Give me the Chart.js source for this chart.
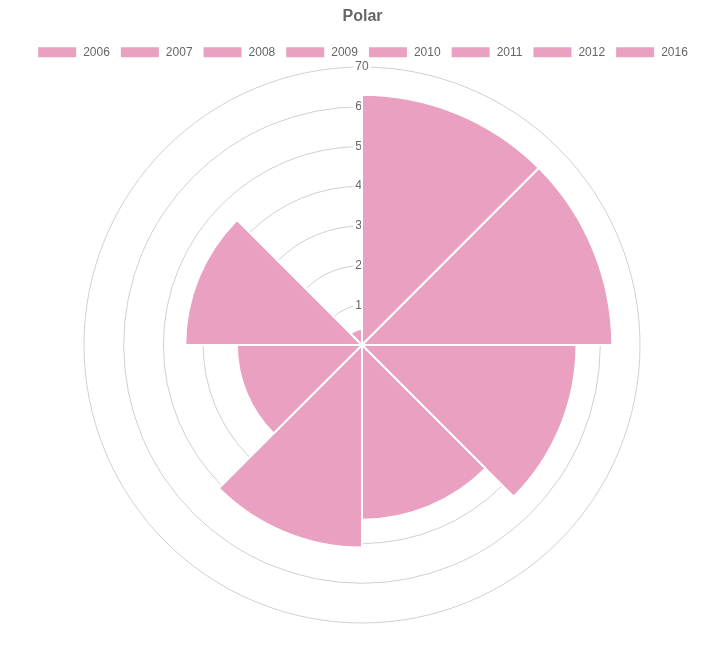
<!DOCTYPE html>
<html>
<head>
<meta charset="utf-8">
<script src="https://cdn.jsdelivr.net/npm/chart.js@4/dist/chart.umd.min.js"></script>
<style>
  html, body { margin: 0; padding: 0; background: #fff; }
  #wrap { width: 720px; height: 649px; }
</style>
</head>
<body>
<div id="wrap"><canvas id="polarChart"></canvas></div>
<script>
const years = ["2006", "2007", "2008", "2009", "2010", "2011", "2012", "2016"];
const values = [63, 63, 54, 44, 51, 31.5, 44.5, 4];
const tickMax = 70;

const pink = "#e9a0c1";

Chart.defaults.font.family = "'Helvetica Neue', Helvetica, Arial, 'Liberation Sans', sans-serif";
Chart.defaults.color = "#666";

// legend sits closer to the circle than the default box allows
const tightLegend = {
  id: "tightLegend",
  beforeUpdate(chart) {
    const lg = chart.legend;
    if (lg && !lg._tight) {
      const fit = lg.fit.bind(lg);
      lg.fit = function () {
        fit();
        this.height -= 9;
      };
      lg._tight = true;
    }
  }
};

new Chart(document.getElementById("polarChart"), {
  type: "polarArea",
  data: {
    labels: years,
    datasets: [
      {
        data: values,
        backgroundColor: years.map(() => pink),
        borderColor: "#fff",
        borderWidth: 2
      }
    ]
  },
  options: {
    responsive: true,
    maintainAspectRatio: false,
    animation: false,
    layout: { padding: { left: 5, bottom: 17 } },
    plugins: {
      title: {
        display: true,
        text: "Polar",
        color: "#666",
        font: { size: 16, weight: "bold" },
        padding: { top: 7, bottom: 10 }
      },
      legend: {
        position: "top",
        labels: { boxWidth: 40, boxHeight: 12, color: "#666", font: { size: 12 } }
      },
      tooltip: { enabled: false }
    },
    scales: {
      r: {
        min: 0,
        max: tickMax,
        ticks: { stepSize: 10, color: "#666", font: { size: 12 }, backdropColor: "#fff" },
        grid: { color: "#d0d0d0" }
      }
    }
  },
  plugins: [tightLegend]
});
</script>
</body>
</html>
